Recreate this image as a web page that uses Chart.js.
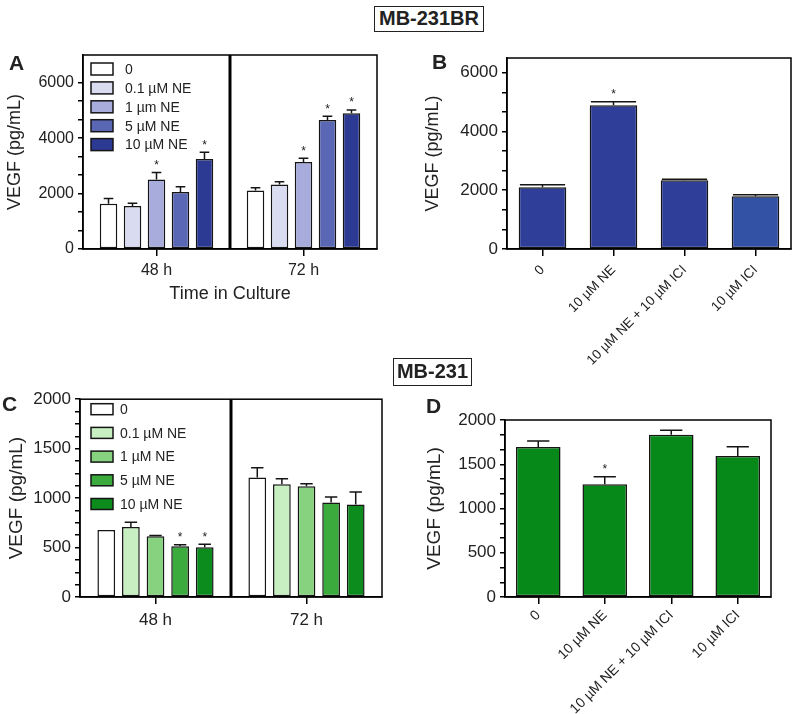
<!DOCTYPE html>
<html><head><meta charset="utf-8">
<script src="https://cdn.jsdelivr.net/npm/chart.js@4.4.1/dist/chart.umd.min.js"></script>
<style>
body{margin:0;background:#fff;width:800px;height:714px;position:relative;overflow:hidden;font-family:"Liberation Sans",Arial,sans-serif;color:#222;}
canvas{position:absolute;}
.box{position:absolute;border:1.5px solid #222;font-weight:bold;font-size:20px;text-align:center;box-sizing:border-box;z-index:5;background:transparent;}
.lt{position:absolute;font-weight:bold;font-size:21px;z-index:5;line-height:1;}
</style></head><body>
<div class="box" style="left:374px;top:6px;width:110px;height:26px;line-height:23px;">MB-231BR</div>
<div class="box" style="left:393px;top:358px;width:79px;height:28px;line-height:25px;">MB-231</div>
<div class="lt" style="left:9px;top:52px;">A</div>
<div class="lt" style="left:432px;top:51px;">B</div>
<div class="lt" style="left:2px;top:393px;">C</div>
<div class="lt" style="left:426px;top:395px;">D</div>
<canvas id="cA" width="400" height="275" style="left:0;top:40px"></canvas>
<canvas id="cB" width="400" height="340" style="left:400px;top:40px"></canvas>
<canvas id="cC" width="400" height="260" style="left:0;top:385px"></canvas>
<canvas id="cD" width="400" height="324" style="left:400px;top:390px"></canvas>
<script>
// ---------- DATA ----------
// Panel A: MB-231BR, time course
const A_CATEGORIES = ['48 h', '72 h'];
const A_SERIES = ['0', '0.1 µM NE', '1 µm NE', '5 µM NE', '10 µM NE'];
const A_MEAN_0   = [1636, 2109];
const A_MEAN_01  = [1551, 2327];
const A_MEAN_1   = [2509, 3139];
const A_MEAN_5   = [2060, 4654];
const A_MEAN_10  = [3248, 4897];
const A_SEM_0    = [182, 97];
const A_SEM_01   = [97, 97];
const A_SEM_1    = [255, 134];
const A_SEM_5    = [182, 134];
const A_SEM_10   = [243, 121];
const A_SIG_0    = [0, 0];
const A_SIG_01   = [0, 0];
const A_SIG_1    = [1, 1];
const A_SIG_5    = [0, 1];
const A_SIG_10   = [1, 1];
const A_Y_LABELS = [0, 2000, 4000, 6000];

// Panel B: MB-231BR, ICI
const B_CATEGORIES = ['0', '10 µM NE', '10 µM NE + 10 µM ICI', '10 µM ICI'];
const B_MEAN = [2098, 4888, 2336, 1792];
const B_SEM  = [91, 124, 34, 56];
const B_SIG  = [0, 1, 0, 0];
const B_Y_LABELS = [0, 2000, 4000, 6000];

// Panel C: MB-231, time course
const C_CATEGORIES = ['48 h', '72 h'];
const C_SERIES = ['0', '0.1 µM NE', '1 µM NE', '5 µM NE', '10 µM NE'];
const C_MEAN_0   = [677, 1209];
const C_MEAN_01  = [707, 1139];
const C_MEAN_1   = [613, 1119];
const C_MEAN_5   = [513, 955];
const C_MEAN_10  = [502, 935];
const C_SEM_0    = [0, 98];
const C_SEM_01   = [50, 57];
const C_SEM_1    = [10, 27];
const C_SEM_5    = [16, 57];
const C_SEM_10   = [31, 127];
const C_SIG_0    = [0, 0];
const C_SIG_01   = [0, 0];
const C_SIG_1    = [0, 0];
const C_SIG_5    = [1, 0];
const C_SIG_10   = [1, 0];
const C_Y_LABELS = [0, 500, 1000, 1500, 2000];

// Panel D: MB-231, ICI
const D_CATEGORIES = ['0', '10 µM NE', '10 µM NE + 10 µM ICI', '10 µM ICI'];
const D_MEAN = [1694, 1275, 1834, 1592];
const D_SEM  = [68, 83, 49, 106];
const D_SIG  = [0, 1, 0, 0];
const D_Y_LABELS = [0, 500, 1000, 1500, 2000];

// ---------- STYLE ----------
const FONT = '"Liberation Sans", Arial, sans-serif';
const INK = '#222';
const EDGE = '#151515';
const BLUES = ['#ffffff', '#d9dcf1', '#a7acdd', '#5a67b5', '#2d3a94'];
const GREENS = ['#ffffff', '#c7efc1', '#87d27f', '#3aab3c', '#0b8c1d'];

const panelPlugin = {
  id: 'panel',
  afterDatasetsDraw(chart, args, o) {
    const {ctx, chartArea: a, scales: {x, y}} = chart;
    ctx.save();
    chart.data.datasets.forEach((ds, di) => {
      const meta = chart.getDatasetMeta(di);
      meta.data.forEach((el, i) => {
        const e = ds.sem ? ds.sem[i] : 0;
        const top = y.getPixelForValue(ds.data[i] + e);
        if (e > 0) {
          ctx.beginPath();
          ctx.strokeStyle = EDGE; ctx.lineWidth = 1.5;
          ctx.moveTo(el.x, el.y); ctx.lineTo(el.x, top);
          const hw = el.width * o.cap / 2;
          ctx.moveTo(el.x - hw, top); ctx.lineTo(el.x + hw, top);
          ctx.stroke();
        }
        if (ds.sig && ds.sig[i]) {
          ctx.fillStyle = INK; ctx.font = '12px ' + FONT;
          ctx.textAlign = 'center'; ctx.textBaseline = 'bottom';
          ctx.fillText('*', el.x, top - 1);
        }
      });
    });
    if (o.divider) {
      const xm = (x.getPixelForValue(0) + x.getPixelForValue(1)) / 2;
      ctx.beginPath(); ctx.strokeStyle = '#000'; ctx.lineWidth = 3;
      ctx.moveTo(xm, a.top); ctx.lineTo(xm, a.bottom); ctx.stroke();
    }
    ctx.strokeStyle = '#000'; ctx.lineWidth = 1.5;
    ctx.strokeRect(a.left, a.top, a.right - a.left, a.bottom - a.top);
    if (o.legend) {
      const L = o.legend;
      chart.data.datasets.forEach((ds, di) => {
        const cy = a.top + L.top + di * L.step;
        ctx.fillStyle = ds.backgroundColor;
        ctx.fillRect(a.left + L.left, cy - L.h / 2, L.w, L.h);
        ctx.strokeStyle = EDGE; ctx.lineWidth = 1.5;
        ctx.strokeRect(a.left + L.left, cy - L.h / 2, L.w, L.h);
        ctx.fillStyle = INK; ctx.font = L.font + 'px ' + FONT;
        ctx.textAlign = 'left'; ctx.textBaseline = 'middle';
        ctx.fillText(ds.label, a.left + L.textX, cy + 1);
      });
    }
    ctx.restore();
  }
};

function yTicks(labels, minor) {
  const out = [];
  for (let k = 0; k < labels.length - 1; k++) {
    const step = (labels[k + 1] - labels[k]) / minor;
    for (let j = 0; j < minor; j++) out.push(labels[k] + j * step);
  }
  out.push(labels[labels.length - 1]);
  return out;
}

function makePanel(id, p) {
  const ticks = yTicks(p.yLabels, p.minor).filter(v => v <= p.yMax + 1e-6);
  if (p.extraTop) ticks.push(...p.extraTop);
  return new Chart(document.getElementById(id), {
    type: 'bar',
    data: {labels: p.categories, datasets: p.datasets},
    options: {
      responsive: false, animation: false, devicePixelRatio: 1,
      layout: {padding: p.padding},
      plugins: {legend: {display: false}, tooltip: {enabled: false}, panel: p.panel},
      datasets: {bar: {barPercentage: p.barPct, categoryPercentage: p.catPct, borderWidth: 1.5, borderColor: EDGE, borderSkipped: false}},
      scales: {
        x: {
          offset: true,
          border: {color: '#000', width: 1.5},
          grid: {offset: false, drawOnChartArea: false, drawTicks: true, tickLength: 7, color: '#000', lineWidth: 1.5},
          ticks: {color: INK, font: {family: FONT, size: p.xFont}, padding: p.xPad, maxRotation: p.rot, minRotation: p.rot, autoSkip: false},
          title: p.xTitle ? {display: true, text: p.xTitle, color: INK, font: {family: FONT, size: 18}, padding: {top: 0, bottom: p.xTitlePad}} : {display: false},
          afterFit: s => { s.height = p.xH; }
        },
        y: {
          min: 0, max: p.yMax,
          border: {color: '#000', width: 1.5},
          grid: {drawOnChartArea: false, drawTicks: true, tickLength: 5, color: '#000', lineWidth: 1.5},
          ticks: {color: INK, font: {family: FONT, size: p.yFont}, padding: 4, autoSkip: false,
            callback: v => p.yLabels.some(l => Math.abs(l - v) < 1e-6) ? String(Math.round(v)) : ''},
          afterBuildTicks: s => { s.ticks = ticks.map(v => ({value: v})); },
          title: {display: true, text: 'VEGF (pg/mL)', color: INK, font: {family: FONT, size: p.yTitleFont}, padding: {top: p.yTitlePad, bottom: 0}},
          afterFit: s => { s.width = p.yW; }
        }
      }
    },
    plugins: [panelPlugin]
  });
}

function series(labels, colors, means, sems, sigs) {
  return labels.map((l, i) => ({label: l, data: means[i], sem: sems[i], sig: sigs[i], backgroundColor: colors[i]}));
}

makePanel('cA', {
  categories: A_CATEGORIES,
  datasets: series(A_SERIES, BLUES,
    [A_MEAN_0, A_MEAN_01, A_MEAN_1, A_MEAN_5, A_MEAN_10],
    [A_SEM_0, A_SEM_01, A_SEM_1, A_SEM_5, A_SEM_10],
    [A_SIG_0, A_SIG_01, A_SIG_1, A_SIG_5, A_SIG_10]),
  yLabels: A_Y_LABELS, minor: 3, yMax: 7000,
  padding: {top: 15, right: 23, left: 0, bottom: 0},
  yW: 83, xH: 66, barPct: 0.73, catPct: 0.816,
  xFont: 16, yFont: 16, xPad: 5, rot: 0, yTitleFont: 18, yTitlePad: 4,
  xTitle: 'Time in Culture', xTitlePad: 10,
  panel: {cap: 0.55, divider: true, legend: {left: 8, top: 14, step: 18.9, w: 22, h: 12, textX: 42, font: 14}}
});

makePanel('cB', {
  categories: B_CATEGORIES,
  datasets: [{label: 'B', data: B_MEAN, sem: B_SEM, sig: B_SIG,
    backgroundColor: ['#2e3e99', '#2e3e99', '#2e3e99', '#3352a6']}],
  yLabels: B_Y_LABELS, minor: 3, yMax: 6500,
  padding: {top: 18, right: 9, left: 0, bottom: 0},
  yW: 107, xH: 131, barPct: 0.67, catPct: 1,
  xFont: 13.5, yFont: 17, xPad: 6, rot: 45, yTitleFont: 18, yTitlePad: 22,
  panel: {cap: 0.95, divider: false}
});

makePanel('cC', {
  categories: C_CATEGORIES,
  datasets: series(C_SERIES, GREENS,
    [C_MEAN_0, C_MEAN_01, C_MEAN_1, C_MEAN_5, C_MEAN_10],
    [C_SEM_0, C_SEM_01, C_SEM_1, C_SEM_5, C_SEM_10],
    [C_SIG_0, C_SIG_01, C_SIG_1, C_SIG_5, C_SIG_10]),
  yLabels: C_Y_LABELS, minor: 4, yMax: 2000,
  padding: {top: 13, right: 18, left: 0, bottom: 0},
  yW: 80, xH: 48, barPct: 0.72, catPct: 0.815,
  xFont: 17, yFont: 17, xPad: 6, rot: 0, yTitleFont: 19, yTitlePad: 5,
  panel: {cap: 0.7, divider: true, legend: {left: 11, top: 10, step: 23.7, w: 22, h: 11, textX: 40, font: 14}}
});

makePanel('cD', {
  categories: D_CATEGORIES,
  datasets: [{label: 'D', data: D_MEAN, sem: D_SEM, sig: D_SIG, backgroundColor: '#07891a'}],
  yLabels: D_Y_LABELS, minor: 3, yMax: 2000,
  padding: {top: 30, right: 29, left: 0, bottom: 0},
  yW: 105, xH: 117, barPct: 0.67, catPct: 1,
  xFont: 14, yFont: 17, xPad: 3, rot: 45, yTitleFont: 19, yTitlePad: 23,
  panel: {cap: 0.5, divider: false}
});
</script>
</body></html>
